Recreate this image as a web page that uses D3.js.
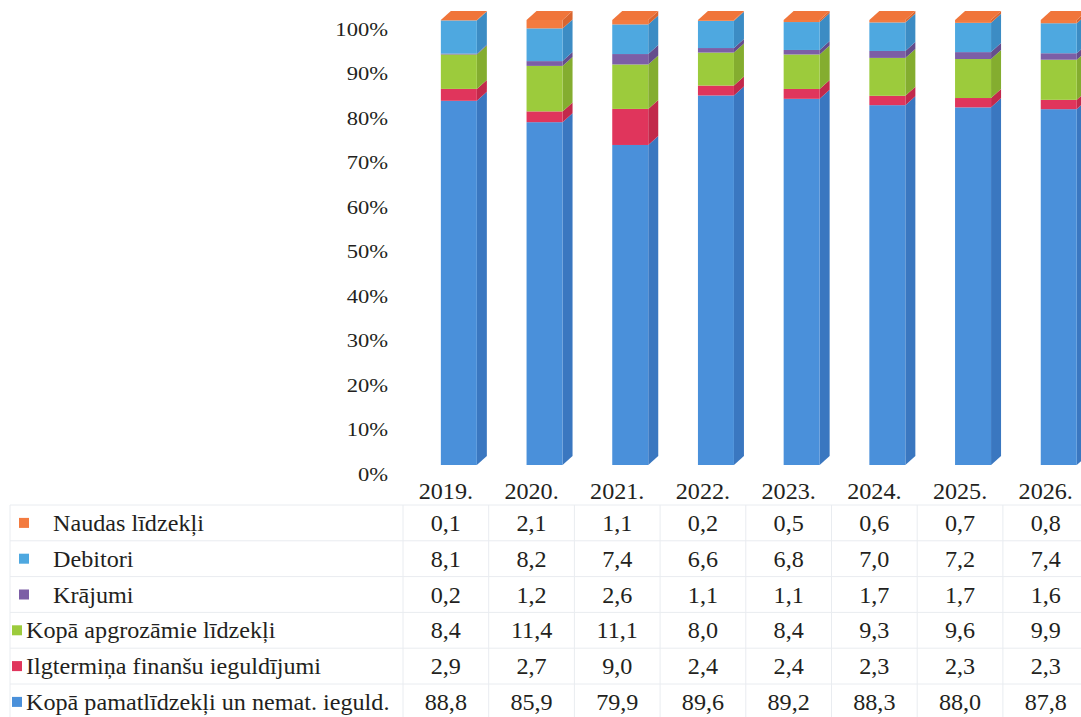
<!DOCTYPE html>
<html>
<head>
<meta charset="utf-8">
<script src="https://cdn.jsdelivr.net/npm/d3@7"></script>
<style>
  body { margin: 0; background: #fff; }
</style>
</head>
<body>
<svg id="chart" width="1081" height="717"></svg>
<script>
// data (values are % shares, stacked then normalised)
var years    = ["2019.", "2020.", "2021.", "2022.", "2023.", "2024.", "2025.", "2026."];
var naudas   = [0.1, 2.1, 1.1, 0.2, 0.5, 0.6, 0.7, 0.8];
var debitori = [8.1, 8.2, 7.4, 6.6, 6.8, 7.0, 7.2, 7.4];
var krajumi  = [0.2, 1.2, 2.6, 1.1, 1.1, 1.7, 1.7, 1.6];
var apgroz   = [8.4, 11.4, 11.1, 8.0, 8.4, 9.3, 9.6, 9.9];
var ilgterm  = [2.9, 2.7, 9.0, 2.4, 2.4, 2.3, 2.3, 2.3];
var pamat    = [88.8, 85.9, 79.9, 89.6, 89.2, 88.3, 88.0, 87.8];
var yTicks   = [0, 0.1, 0.2, 0.3, 0.4, 0.5, 0.6, 0.7, 0.8, 0.9, 1];

// table rows, top to bottom
var rowNames = ["Naudas līdzekļi", "Debitori", "Krājumi", "Kopā apgrozāmie līdzekļi",
                "Ilgtermiņa finanšu ieguldījumi", "Kopā pamatlīdzekļi un nemat. ieguld."];
var rowValues = [naudas, debitori, krajumi, apgroz, ilgterm, pamat];
var rowIndent = [true, true, true, false, false, false];

// colours per row: front, side
var colors = {
  "Naudas līdzekļi": ["#f37b40", "#d9652f"],
  "Debitori": ["#4ea8e0", "#3c8cc4"],
  "Krājumi": ["#7c5ea6", "#654d8c"],
  "Kopā apgrozāmie līdzekļi": ["#9ccb3c", "#84ad2f"],
  "Ilgtermiņa finanšu ieguldījumi": ["#e0355c", "#c2294b"],
  "Kopā pamatlīdzekļi un nemat. ieguld.": ["#4a90da", "#3a77c0"]
};

var FONT = "'Liberation Serif', 'Times New Roman', serif";
var svg = d3.select("#chart").style("font-family", FONT);

// stack bottom -> top
var keys = rowNames.slice().reverse();
var rows = years.map(function(yr, i) {
  var r = { year: yr };
  rowNames.forEach(function(n, j) { r[n] = rowValues[j][i]; });
  return r;
});
var stack = d3.stack().keys(keys).offset(d3.stackOffsetExpand);
var layers = stack(rows);

var y = d3.scaleLinear().domain([0, 1]).range([474, 29]);
var x = d3.scaleBand().domain(years).range([403, 403 + 8 * 85.7]);

var depthX = 10, depthY = 9, barW = 36;

// y axis labels only
var yAxis = d3.axisLeft(y).tickValues(yTicks).tickFormat(d3.format(".0%")).tickSize(0).tickPadding(0);
var ag = svg.append("g").attr("transform", "translate(388,0)").call(yAxis);
ag.select(".domain").remove();
ag.attr("font-family", null).attr("font-size", null);
ag.selectAll("text")
  .style("font-family", FONT).style("font-size", "18.5px").attr("fill", "#231f20")
  .attr("x", 0).attr("dy", "0.34em")
  .attr("transform", "scale(1.22,1)");

function frontX(d) { return x(d.data.year) + x.bandwidth() / 2 - 5; }

// bars
layers.forEach(function(layer, li) {
  var c = colors[layer.key];
  var g = svg.append("g");
  // side face
  g.selectAll("path.side").data(layer).enter().append("path")
    .attr("class", "side")
    .attr("fill", c[1])
    .attr("d", function(d) {
      var x0 = frontX(d) + barW, t = y(d[1]) - depthY, b = y(d[0]) - depthY;
      return "M" + x0 + "," + t + "L" + (x0 + depthX) + "," + (t - depthY) +
             "L" + (x0 + depthX) + "," + (b - depthY) + "L" + x0 + "," + b + "Z";
    });
  // front face
  g.selectAll("rect").data(layer).enter().append("rect")
    .attr("x", frontX)
    .attr("y", function(d) { return y(d[1]) - depthY; })
    .attr("width", barW)
    .attr("height", function(d) { return y(d[0]) - y(d[1]); })
    .attr("fill", c[0]);
  // top face on top segment
  if (li === layers.length - 1) {
    g.selectAll("path.top").data(layer).enter().append("path")
      .attr("fill", "#f0753a")
      .attr("d", function(d) {
        var x0 = frontX(d), t = y(d[1]) - depthY;
        return "M" + x0 + "," + t + "L" + (x0 + depthX) + "," + (t - depthY) +
               "L" + (x0 + barW + depthX) + "," + (t - depthY) + "L" + (x0 + barW) + "," + t + "Z";
      });
  }
});

// data table
var rowTop = 505, rowH = 35.8;
var grid = svg.append("g").attr("stroke", "#e9ecf0").attr("stroke-width", 1);
d3.range(rowNames.length + 1).forEach(function(i) {
  grid.append("line").attr("x1", 10).attr("x2", 1081)
    .attr("y1", rowTop + i * rowH).attr("y2", rowTop + i * rowH);
});
grid.append("line").attr("x1", 10).attr("x2", 10).attr("y1", rowTop).attr("y2", 717);
years.forEach(function(yr) {
  grid.append("line").attr("x1", x(yr)).attr("x2", x(yr)).attr("y1", rowTop).attr("y2", 717);
});

var fmt = d3.formatLocale({ decimal: ",", thousands: " ", grouping: [3], currency: ["", ""] }).format(".1f");
var sx = 1.05, fs = 23;

// year header
svg.append("g").selectAll("text").data(years).enter().append("text")
  .attr("transform", function(d) { return "translate(" + (x(d) + x.bandwidth() / 2) + ",499) scale(" + sx + ",1)"; })
  .attr("text-anchor", "middle").style("font-size", fs + "px").attr("fill", "#231f20")
  .text(function(d) { return d; });

rowNames.forEach(function(name, i) {
  var cy = rowTop + i * rowH + rowH / 2;
  var g = svg.append("g");
  var mx = rowIndent[i] ? 19 : 12;
  g.append("rect").attr("x", mx).attr("y", cy - 5).attr("width", 10).attr("height", 10)
    .attr("fill", colors[name][0]);
  g.append("text")
    .attr("transform", "translate(" + (rowIndent[i] ? 53 : 26) + "," + (cy + 8) + ") scale(" + sx + ",1)")
    .style("font-size", fs + "px").attr("fill", "#231f20").text(name);
  g.selectAll("text.v").data(rowValues[i]).enter().append("text")
    .attr("class", "v")
    .attr("transform", function(d, j) { return "translate(" + (x(years[j]) + x.bandwidth() / 2) + "," + (cy + 8) + ") scale(" + sx + ",1)"; })
    .attr("text-anchor", "middle").style("font-size", fs + "px").attr("fill", "#231f20")
    .text(function(d) { return fmt(d); });
});
</script>
</body>
</html>
